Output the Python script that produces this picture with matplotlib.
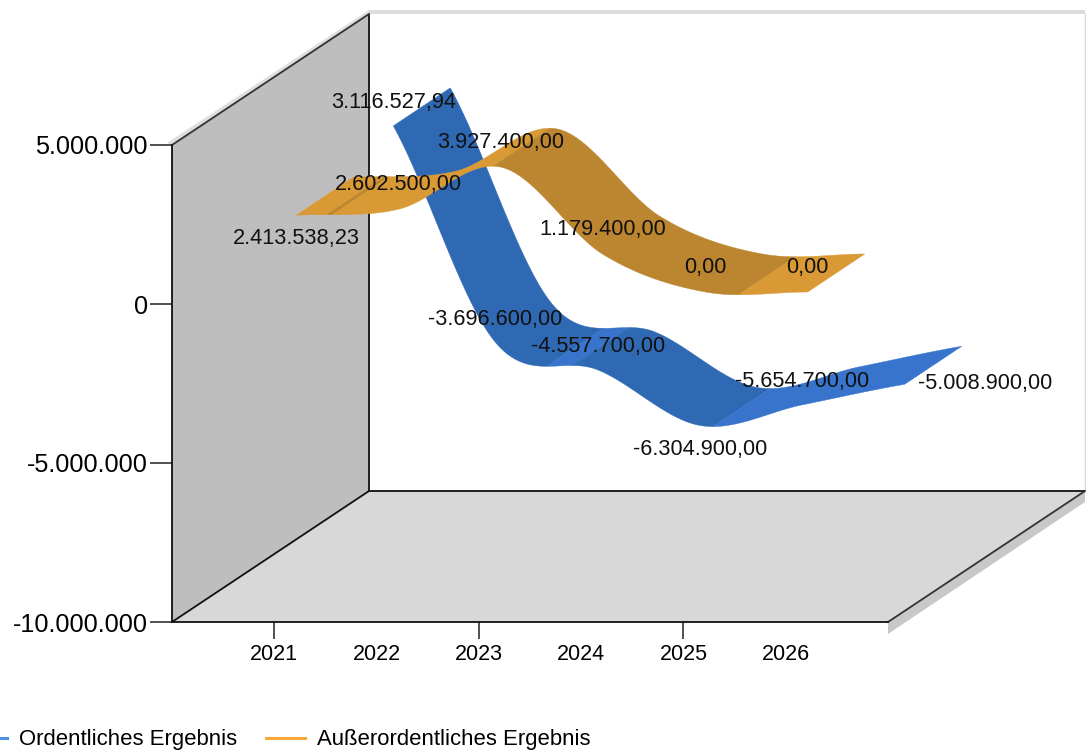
import numpy as np
import matplotlib
matplotlib.use("Agg")
import matplotlib.pyplot as plt
from matplotlib.lines import Line2D
from matplotlib.patches import Polygon

plt.rcParams['font.family'] = ['Liberation Sans', 'DejaVu Sans']

years = [2021, 2022, 2023, 2024, 2025, 2026]
ordentlich = [3116527.94, -3696600.00, -4557700.00, -6304900.00, -5654700.00, -5008900.00]
ausserordentlich = [2413538.23, 2602500.00, 3927400.00, 1179400.00, 0.00, 0.00]
series_names = ['Ordentliches Ergebnis', 'Außerordentliches Ergebnis']
y_ticks = [-10000000, -5000000, 0, 5000000]
blue_label_place = ['above', 'above', 'above', 'below', 'above', 'right']
orange_label_place = ['below', 'above', 'above', 'above', 'above', 'above']

W, H = 1086, 751
L, R, T, B = 172, 888, 145, 622
fig = plt.figure(figsize=(W / 100, H / 100), dpi=100)
ax = fig.add_axes([L / W, 1 - B / H, (R - L) / W, (B - T) / H])
ax.set_xlim(2020, 2027)
ax.set_ylim(-10000000, 5000000)
ax.patch.set_visible(False)

# pixel -> data unit conversions for the pseudo-3D depth offset
ux = 7 / (R - L)
uy = 15000000 / (B - T)
DX, DY = 197 * ux, 131 * uy


def fmt(v, dec=0):
    s = f"{v:,.{dec}f}"
    return s.replace(",", "#").replace(".", ",").replace("#", ".")


def shifted(x, y, dx_px, dy_px):
    return np.asarray(x) + dx_px * ux, np.asarray(y) + dy_px * uy


def poly(xy, **kw):
    kw.setdefault('lw', 0)
    ax.add_patch(Polygon(xy, closed=True, clip_on=False, **kw))


xa, xb, ya, yb = 2020, 2027, -10000000, 5000000
# shadows
poly([(xa, yb), (xa + DX, yb + DY), (xa + DX, yb + DY + 4 * uy), (xa - 5 * ux, yb + 2 * uy)],
     color='#dedede', zorder=0.5)
poly([(xa + DX, yb + DY), (xb + DX, yb + DY), (xb + DX, yb + DY + 4 * uy), (xa + DX, yb + DY + 4 * uy)],
     color='#dcdcdc', zorder=0.5)
poly([(xb, ya), (xb + DX, ya + DY), (xb + DX, ya + DY - 11 * uy), (xb, ya - 12 * uy)],
     color='#c8c8c8', zorder=0.5)
# walls and floor
poly([(xa, ya), (xa + DX, ya + DY), (xa + DX, yb + DY), (xa, yb)], color='#bebebe', zorder=1)
poly([(xa, ya), (xb, ya), (xb + DX, ya + DY), (xa + DX, ya + DY)], color='#d8d8d8', zorder=1)
edge = dict(color='#111111', lw=1.3, clip_on=False, zorder=2, solid_capstyle='butt')
ax.plot([xa + DX, xa + DX], [ya + DY, yb + DY], **edge)
ax.plot([xa + DX, xb + DX], [ya + DY, ya + DY], **edge)
ax.plot([xa, xa + DX], [ya, ya + DY], **edge)
ax.plot([xa, xa + DX], [yb, yb + DY], color='#333333', lw=1.3, clip_on=False, zorder=2)
ax.plot([xb, xb + DX], [ya, ya + DY], color='#333333', lw=1.3, clip_on=False, zorder=2)
ax.plot([xb + DX, xb + DX], [ya + DY, yb + DY], color='#d8d8d8', lw=1, clip_on=False, zorder=1.5)


def spline(x, y, tension=0.5, end=0.85, n=40):
    x = np.asarray(x, float)
    y = np.asarray(y, float)
    m = np.zeros_like(y)
    m[1:-1] = tension * (y[2:] - y[:-2])
    m[0] = end * (y[1] - y[0])
    m[-1] = end * (y[-1] - y[-2])
    xs, ys = [], []
    for i in range(len(x) - 1):
        t = np.linspace(0, 1, n, endpoint=False)
        h00 = 2 * t**3 - 3 * t**2 + 1
        h10 = t**3 - 2 * t**2 + t
        h01 = -2 * t**3 + 3 * t**2
        h11 = t**3 - t**2
        xs.append(x[i] + t * (x[i + 1] - x[i]))
        ys.append(h00 * y[i] + h10 * m[i] + h01 * y[i + 1] + h11 * m[i + 1])
    xs.append(x[-1:])
    ys.append(y[-1:])
    return np.concatenate(xs), np.concatenate(ys)


def ribbon(values, off, width, dark, light, z):
    fx, fy = shifted(years, values, *off)
    sx, sy = spline(fx, fy)
    bx, by = sx + width[0] * ux, sy + width[1] * uy
    rising = np.diff(sy) > 0
    start = 0
    # one polygon per run of equal shading, so no seams show between strips
    for i in range(1, len(rising) + 1):
        if i == len(rising) or rising[i] != rising[start]:
            col = light if rising[start] else dark
            front = list(zip(sx[start:i + 1], sy[start:i + 1]))
            back = list(zip(bx[start:i + 1], by[start:i + 1]))[::-1]
            poly(front + back, facecolor=col, edgecolor=col, lw=0.3, zorder=z)
            start = i
    return fx, fy


RW = (57, 38)
bfx, bfy = ribbon(ordentlich, (119, 79), RW, '#2f69b4', '#3874cc', 3)
ofx, ofy = ribbon(ausserordentlich, (22, 12), RW, '#bc8530', '#d99a35', 4)

PX = 72 / 100
OFFS = {'above': (0, 25), 'below': (0, -23), 'right': (80, 2)}
for fx, fy, vals, places, lift in ((ofx, ofy, ausserordentlich, orange_label_place, 0),
                                   (bfx, bfy, ordentlich, blue_label_place, -1.5)):
    for x, y, v, p in zip(fx, fy, vals, places):
        o = OFFS[p]
        ax.annotate(fmt(v, 2), (x, y), xytext=(o[0] * PX, (o[1] + lift) * PX), textcoords='offset points',
                    ha='center', va='center', fontsize=15.7, color='#111111', zorder=6,
                    annotation_clip=False)

# axes
for s in ('top', 'right'):
    ax.spines[s].set_visible(False)
for s in ('left', 'bottom'):
    ax.spines[s].set_linewidth(1.3)
    ax.spines[s].set_color('#111111')
ax.set_yticks(y_ticks)
ax.set_yticklabels([fmt(v) for v in y_ticks])
ax.tick_params(axis='y', length=16, width=1.1, pad=1.5, labelsize=18.2, color='#222222')
ax.set_xticks(years)
ax.set_xticklabels([str(y) for y in years])
ax.tick_params(axis='x', length=12, width=1.1, pad=4, labelsize=15.5, color='#222222')
for yr, tick in zip(years, ax.xaxis.get_major_ticks()):
    if yr % 2 == 0:
        tick.tick1line.set_visible(False)

handles = [Line2D([], [], color='#4a90e2', lw=2.2), Line2D([], [], color='#f5a93a', lw=2.2)]
fig.legend(handles, series_names, loc='lower left', bbox_to_anchor=(-33 / W, 0.0), ncols=2, frameon=False,
           fontsize=15.9, handlelength=1.8, handletextpad=0.52, columnspacing=1.3, borderpad=0,
           borderaxespad=0.03)

fig.savefig('out.png', dpi=100)
